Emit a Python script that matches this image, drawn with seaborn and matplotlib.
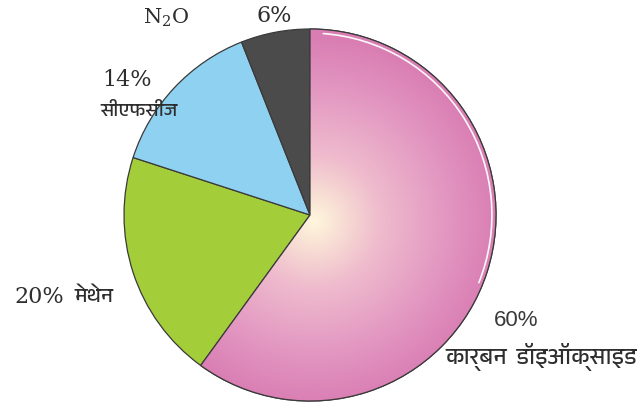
import matplotlib
matplotlib.use("Agg")
import matplotlib.pyplot as plt
import seaborn as sns
import numpy as np
from matplotlib import font_manager
from matplotlib.colors import LinearSegmentedColormap
from matplotlib.patches import Arc, Wedge

# ---- data ----
categories = ["कार्बन  डॉइऑक्साइड", "मेथेन", "सीएफसीज", "N$_2$O"]
values = [60, 20, 14, 6]
pct_labels = ["60%", "20%", "14%", "6%"]
colors = ["#d880b4", "#a4cd3a", "#8ed1f1", "#4b4b4b"]


def find_deva():
    try:
        from fontTools.ttLib import TTFont
    except Exception:
        return None
    found = []
    for f in font_manager.fontManager.ttflist:
        try:
            tt = TTFont(f.fname, fontNumber=0, lazy=True)
            cmap = tt.getBestCmap()
            if cmap and 0x0915 in cmap and 0x093F in cmap:
                found.append(f.name)
        except Exception:
            pass
    pref = [n for n in found if "Devanagari" in n]
    if pref:
        return pref[0]
    return found[0] if found else None


sns.set_theme(style="white")
deva = find_deva()
deva_family = [deva, "DejaVu Sans"] if deva else ["DejaVu Sans"]
plt.rcParams["font.family"] = ["DejaVu Serif"]
plt.rcParams["mathtext.fontset"] = "dejavuserif"

W, H = 644, 404
fig = plt.figure(figsize=(6.44, 4.04), dpi=100)
ax = fig.add_axes([0, 0, 1, 1])

cx, cy_img, R = 310, 215, 186
cy = H - cy_img

wedges, _ = ax.pie(values, colors=colors, startangle=90, counterclock=False,
                   center=(cx, cy), radius=R,
                   wedgeprops=dict(edgecolor="#3a3a3a", linewidth=0.9))
ax.set_xlim(0, W)
ax.set_ylim(0, H)
ax.set_aspect("equal")
ax.axis("off")

# radial gradient on the CO2 wedge
grad = LinearSegmentedColormap.from_list(
    "pinkglow",
    [(0.0, "#fff6de"), (0.1, "#fae6d6"), (0.35, "#efbccd"),
     (0.7, "#e398c2"), (1.0, "#d97db3")])
n = 400
xs = np.linspace(cx - R, cx + R, n)
ys = np.linspace(cy - R, cy + R, n)
X, Y = np.meshgrid(xs, ys)
rr = np.sqrt((X - cx - 4) ** 2 + (Y - cy + 6) ** 2) / R
img = ax.imshow(np.clip(rr, 0, 1), cmap=grad, origin="lower",
                extent=(cx - R, cx + R, cy - R, cy + R), zorder=2,
                interpolation="bilinear")
img.set_clip_path(wedges[0])
w0 = wedges[0]
outline = Wedge((cx, cy), R, w0.theta1, w0.theta2, facecolor="none",
                edgecolor="#3a3a3a", linewidth=0.9, zorder=3)
ax.add_patch(outline)

# white highlight arc near the edge
ax.add_patch(Arc((cx, cy), 2 * R * 0.978, 2 * R * 0.978, theta1=-22, theta2=86,
                 color="white", linewidth=1.2, zorder=4, alpha=0.95))

tc = "#2e2e2e"
def Y_(y):
    return H - y

ax.text(143, Y_(18), categories[3], fontsize=15, color=tc, va="center", ha="left",
        family=["DejaVu Serif"])
ax.text(257, Y_(16), pct_labels[3], fontsize=16, color=tc, va="center", ha="left",
        family=["DejaVu Serif"])
ax.text(102, Y_(80), pct_labels[2], fontsize=16, color=tc, va="center", ha="left",
        family=["DejaVu Serif"])
ax.text(100, Y_(110), categories[2], fontsize=14, color=tc, va="center", ha="left",
        family=deva_family)
ax.text(14, Y_(297), pct_labels[1], fontsize=16, color=tc, va="center", ha="left",
        family=["DejaVu Serif"])
ax.text(75, Y_(297), categories[1], fontsize=15, color=tc, va="center", ha="left",
        family=deva_family)
ax.text(494, Y_(320), pct_labels[0], fontsize=16, color="#3a3a3a", va="center",
        ha="left", family=["Liberation Sans", "DejaVu Sans"])
ax.text(445, Y_(357), categories[0], fontsize=16.5, color=tc, va="center", ha="left",
        family=deva_family)

fig.savefig("out.png", dpi=100)
